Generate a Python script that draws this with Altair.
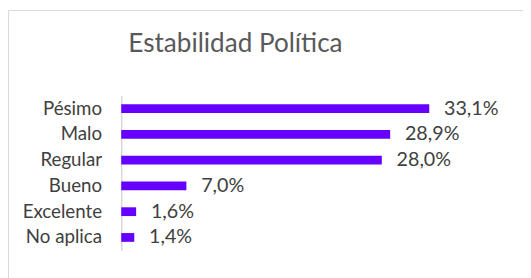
import altair as alt
import pandas as pd

categorias = ["Pésimo", "Malo", "Regular", "Bueno", "Excelente", "No aplica"]
valores = [33.1, 28.9, 28.0, 7.0, 1.6, 1.4]
etiquetas = ["33,1%", "28,9%", "28,0%", "7,0%", "1,6%", "1,4%"]
titulo = "Estabilidad Política"

df = pd.DataFrame({"cat": categorias, "val": valores, "lab": etiquetas})

FONT = "Lato"
W, H = 378, 157

y = alt.Y("cat:N", sort=categorias, title=None,
          scale=alt.Scale(paddingInner=0.66, paddingOuter=0.33),
          axis=alt.Axis(domainColor="#d9d9d9", domainWidth=1.5, ticks=False,
                        labelFont=FONT, labelFontSize=19, labelColor="#404040",
                        labelPadding=20))
x = alt.X("val:Q", title=None, scale=alt.Scale(domain=[0, 40]), axis=None)

bars = alt.Chart(df).mark_bar(color="#6600ff").encode(x=x, y=y)
text = alt.Chart(df).mark_text(align="left", dx=15, font=FONT, fontSize=20,
                               color="#404040").encode(x=x, y=y, text="lab:N")

title = alt.Chart(pd.DataFrame({"t": [titulo]})).mark_text(
    font=FONT, fontSize=26.5, color="#595959", align="center", baseline="middle"
).encode(x=alt.value(116), y=alt.value(-52), text="t:N")

border = alt.Chart(pd.DataFrame({"a": [0]})).mark_rect(
    fill=None, stroke="#d9d9d9", strokeWidth=1
).encode(x=alt.value(-114.5), x2=alt.value(440), y=alt.value(-86.5), y2=alt.value(220))

chart = alt.layer(border, bars, text, title).properties(
    width=W, height=H,
    autosize=alt.AutoSizeParams(type="none"),
    padding={"left": 115, "top": 87, "right": 30, "bottom": 26},
).configure_view(stroke=None)

chart.save("out.html", embed_options={"renderer": "svg", "actions": False})
